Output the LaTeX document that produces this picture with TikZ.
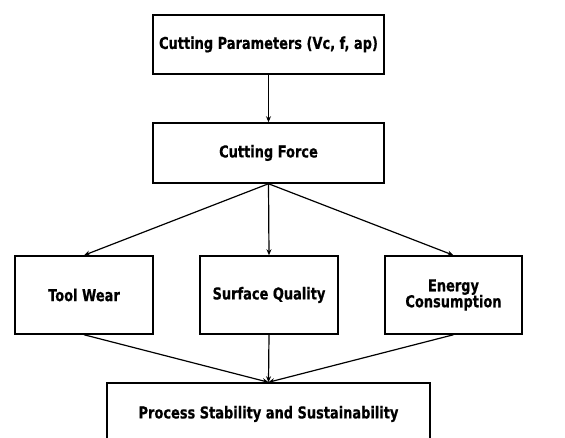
\documentclass[tikz,border=0pt]{standalone}
\usepackage{fontspec}
\setmainfont{DejaVu Sans}
\newfontfamily\boxfont[FakeStretch=0.79,FakeBold=0.5]{DejaVu Sans Bold}
\usetikzlibrary{arrows.meta}
\begin{document}
\begin{tikzpicture}[x=1pt,y=1pt,
  box/.style={draw=black, line width=1.5pt, fill=white, inner sep=0pt, align=center,
    font=\boxfont\fontsize{16.4}{16}\selectfont},
  arr/.style={line width=1.2pt, -{Stealth[length=6pt,width=5pt]}}]
\clip (0,0) rectangle (565,438);
\fill[white] (0,0) rectangle (565,438);
\node[box, minimum width=231pt, minimum height=59pt] (cp) at (268.5,393.5) {Cutting Parameters (Vc, f, ap)};
\node[box, minimum width=231pt, minimum height=60pt] (cf) at (268.5,285) {Cutting Force};
\node[box, minimum width=138pt, minimum height=78pt] (tw) at (84,143) {Tool Wear};
\node[box, minimum width=138pt, minimum height=78pt] (sq) at (269,143) {Surface Quality};
\node[box, minimum width=137pt, minimum height=78pt] (ec) at (453.5,143) {Energy\\Consumption};
\node[box, minimum width=323pt, minimum height=62pt] (ps) at (268.5,24) {Process Stability and Sustainability};
\draw[arr] (cp.south) -- (cf.north);
\draw[arr] (cf.south) -- (tw.north);
\draw[arr] (cf.south) -- (sq.north);
\draw[arr] (cf.south) -- (ec.north);
\draw[arr] (tw.south) -- (ps.north);
\draw[arr] (sq.south) -- (ps.north);
\draw[arr] (ec.south) -- (ps.north);
\end{tikzpicture}
\end{document}
